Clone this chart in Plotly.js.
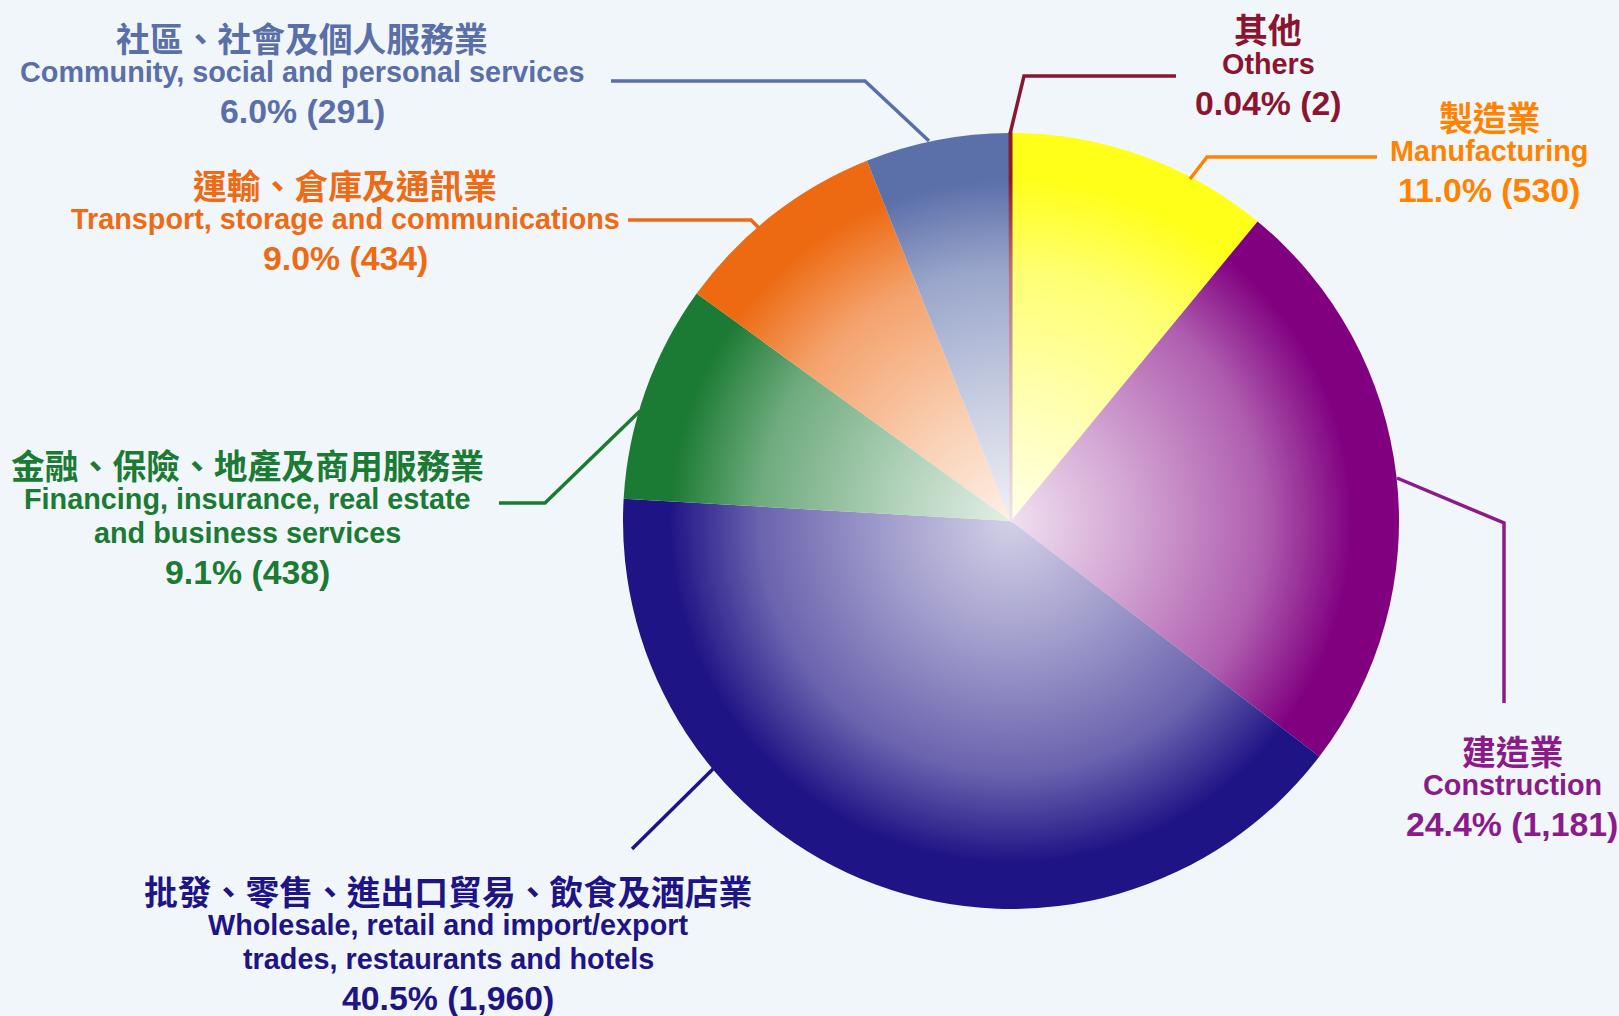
<!DOCTYPE html>
<html>
<head>
<meta charset="utf-8">
<script src="https://cdn.plot.ly/plotly-3.0.1.min.js"></script>
<style>
html,body{margin:0;padding:0;background:#f0f6f9;}
#chart{width:1619px;height:1016px;}
</style>
</head>
<body>
<div id="chart"></div>
<script>
// ---- data ----
const categoriesZh = ['製造業', '建造業', '批發、零售、進出口貿易、飲食及酒店業', '金融、保險、地產及商用服務業', '運輸、倉庫及通訊業', '社區、社會及個人服務業', '其他'];
const categoriesEn = [
  ['Manufacturing'],
  ['Construction'],
  ['Wholesale, retail and import/export', 'trades, restaurants and hotels'],
  ['Financing, insurance, real estate', 'and business services'],
  ['Transport, storage and communications'],
  ['Community, social and personal services'],
  ['Others']
];
const values = [530, 1181, 1960, 438, 434, 291, 2];
const percents = ['11.0', '24.4', '40.5', '9.1', '9.0', '6.0', '0.04'];

// ---- style ----
const W = 1619, H = 1016;
const BG = '#f0f6f9';
const sliceColors = ['#ffff1a', '#800080', '#1f1485', '#1b7a33', '#ed6a12', '#5b6fa9', '#8b1a2b'];
const centerWhite = [0.9, 0.88, 0.8, 0.88, 0.9, 0.9, 0.88];
const labelColors = ['#ff8200', '#8b1a8b', '#1f1485', '#1b7a33', '#ee6a15', '#5a6ea8', '#8b1530'];
const labelPos = [[1489, 116], [1512, 750], [448, 890], [247, 464], [345, 184], [302, 37], [1268, 29]];
const leaders = [
  [[1190, 179], [1207, 157], [1377, 157]],
  [[1397, 478], [1504, 523], [1504, 703]],
  [[714, 768], [632, 849]],
  [[640, 411], [545, 503], [499, 503]],
  [[759, 228], [751, 220], [628, 220]],
  [[929, 141], [865, 81], [611, 81]],
  [[1010, 134], [1024, 76], [1176, 76]]
];
const pieCx = 1011, pieCy = 521, pieR = 388;

const px = x => x / W;
const py = y => 1 - y / H;

const annotations = [];
const shapes = [];
categoriesZh.forEach((zh, i) => {
  const [x, y] = labelPos[i];
  const col = labelColors[i];
  annotations.push({
    xref: 'paper', yref: 'paper', x: px(x), y: py(y), xanchor: 'center', yanchor: 'middle',
    showarrow: false, text: zh,
    font: {family: '"Noto Sans CJK TC", "Noto Sans CJK SC", sans-serif', size: 33.8, color: col, weight: 700}
  });
  let yy = y + 35;
  categoriesEn[i].forEach((line, k) => {
    if (k > 0) yy += 34;
    annotations.push({
      xref: 'paper', yref: 'paper', x: px(x), y: py(yy), xanchor: 'center', yanchor: 'middle',
      showarrow: false, text: line,
      font: {family: '"Liberation Sans", Arial, sans-serif', size: 28.8, color: col, weight: 700}
    });
  });
  yy += 39;
  annotations.push({
    xref: 'paper', yref: 'paper', x: px(x), y: py(yy), xanchor: 'center', yanchor: 'middle',
    showarrow: false, text: percents[i] + '% (' + values[i].toLocaleString('en-US') + ')',
    font: {family: '"Liberation Sans", Arial, sans-serif', size: 33.8, color: col, weight: 700}
  });
  const pts = leaders[i];
  shapes.push({
    type: 'path', xref: 'paper', yref: 'paper',
    path: pts.map((p, k) => (k ? 'L' : 'M') + px(p[0]) + ',' + py(p[1])).join(' '),
    line: {color: col, width: 3.5}
  });
});

const data = [{
  type: 'pie',
  values: values,
  labels: categoriesEn.map(l => l.join(' ')),
  sort: false,
  direction: 'clockwise',
  rotation: 0,
  textinfo: 'none',
  hoverinfo: 'skip',
  showlegend: false,
  marker: {
    colors: sliceColors,
    line: {color: sliceColors, width: values.map((v, i) => i === values.length - 1 ? 3 : 0)}
  },
  domain: {x: [px(pieCx - pieR), px(pieCx + pieR)], y: [py(pieCy + pieR), py(pieCy - pieR)]}
}];

const layout = {
  width: W, height: H,
  margin: {l: 0, r: 0, t: 0, b: 0, pad: 0},
  paper_bgcolor: BG, plot_bgcolor: BG,
  showlegend: false,
  annotations: annotations,
  shapes: shapes
};

function hexToRgb(h) { const n = parseInt(h.slice(1), 16); return [(n >> 16) & 255, (n >> 8) & 255, n & 255]; }
function mix(c, t) { // t: fraction of colour (0 => white, 1 => full colour)
  return 'rgb(' + c.map(v => Math.round(v * t + 255 * (1 - t))).join(',') + ')';
}

const gd = document.getElementById('chart');
Plotly.newPlot(gd, data, layout, {staticPlot: true, displayModeBar: false}).then(() => {
  const NS = 'http://www.w3.org/2000/svg';
  const svg = gd.querySelector('svg.main-svg');
  let defs = svg.querySelector('defs');
  if (!defs) { defs = document.createElementNS(NS, 'defs'); svg.insertBefore(defs, svg.firstChild); }
  const R = gd.calcdata[0][0].r;
  gd.querySelectorAll('g.slice path.surface').forEach(p => {
    const dat = p.__data__ || {};
    const i = dat.i !== undefined ? dat.i : 0;
    const m = (p.getAttribute('d') || '').match(/M\s*([-\d.e]+)[\s,]+([-\d.e]+)/);
    const cx = m ? parseFloat(m[1]) : gd.calcdata[0][0].cx;
    const cy = m ? parseFloat(m[2]) : gd.calcdata[0][0].cy;
    const g = document.createElementNS(NS, 'radialGradient');
    const id = 'sliceGrad' + i;
    g.setAttribute('id', id);
    g.setAttribute('gradientUnits', 'userSpaceOnUse');
    g.setAttribute('cx', cx); g.setAttribute('cy', cy); g.setAttribute('r', R);
    g.setAttribute('fx', cx); g.setAttribute('fy', cy);
    const c = hexToRgb(sliceColors[i]);
    const base = 1 - centerWhite[i];
    const stops = [[0, 0], [0.3, 0.25], [0.65, 0.58], [0.88, 1], [1, 1]];
    stops.forEach(([o, t]) => {
      const s = document.createElementNS(NS, 'stop');
      s.setAttribute('offset', o);
      s.setAttribute('stop-color', mix(c, base + (1 - base) * t));
      g.appendChild(s);
    });
    defs.appendChild(g);
    p.style.fill = 'url(#' + id + ')';
    if (i === values.length - 1) p.style.stroke = 'url(#' + id + ')';
  });
});
</script>
</body>
</html>
